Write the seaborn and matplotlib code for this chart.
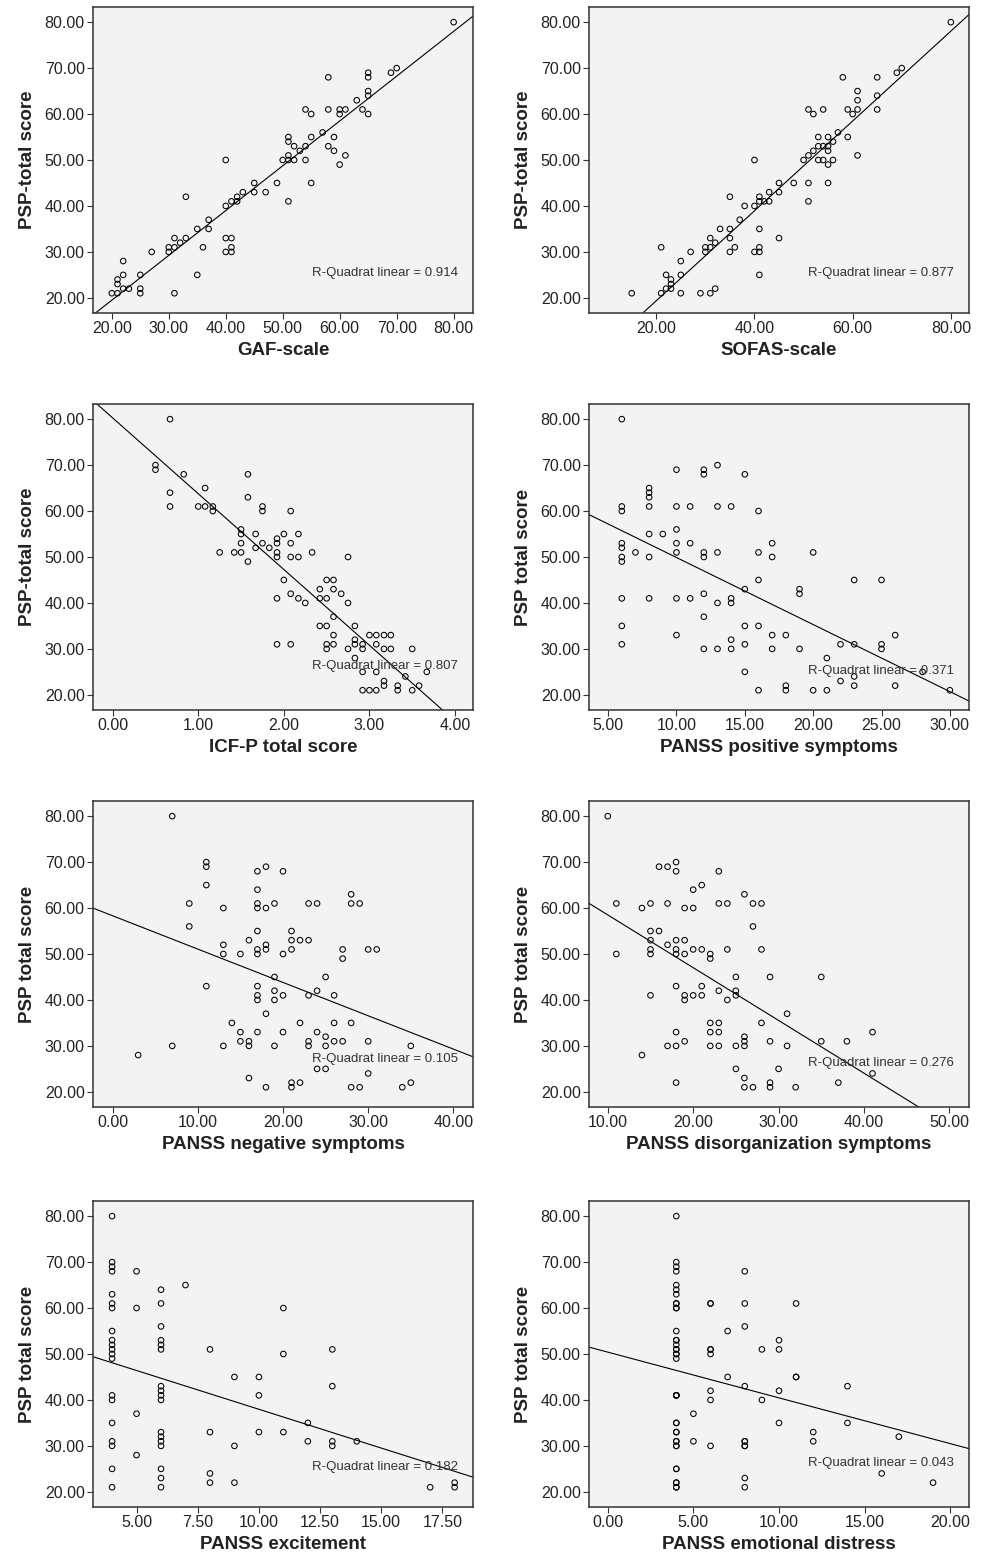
import matplotlib
matplotlib.use("Agg")
import matplotlib.pyplot as plt
from matplotlib.ticker import FormatStrFormatter
import seaborn as sns

# PSP total score against eight predictor scales (one list pair per panel)
gaf_x = [80, 70, 69, 65, 65, 65, 65, 65, 63, 64, 61, 60, 60, 58, 58, 58, 54, 55, 57, 55, 59, 59,
         54, 53, 52, 54, 51, 51, 51, 51, 52, 50, 61, 60, 55, 51, 49, 47, 45, 45, 43, 42, 42, 41,
         40, 40, 33, 37, 37, 35, 40, 41, 41, 40, 41, 36, 33, 32, 31, 31, 30, 30, 27, 35, 31, 25,
         25, 25, 22, 22, 21, 21, 22, 23, 21, 20]
gaf_y = [80, 70, 69, 69, 68, 65, 64, 60, 63, 61, 61, 61, 60, 68, 61, 53, 61, 60, 56, 55, 55, 52,
         53, 52, 53, 50, 55, 54, 51, 50, 50, 50, 51, 49, 45, 41, 45, 43, 45, 43, 43, 42, 41, 41,
         40, 50, 42, 37, 35, 35, 33, 33, 31, 30, 30, 31, 33, 32, 33, 31, 31, 30, 30, 25, 21, 25,
         22, 21, 28, 25, 24, 23, 22, 22, 21, 21]

sofas_x = [80, 70, 69, 65, 58, 61, 61, 65, 65, 61, 59, 60, 51, 52, 54, 57, 59, 53, 55, 52, 53, 54,
           55, 56, 55, 51, 50, 53, 54, 55, 56, 61, 51, 55, 51, 48, 45, 45, 43, 43, 42, 41, 41, 40,
           40, 38, 37, 35, 35, 41, 33, 35, 31, 32, 31, 30, 30, 27, 35, 36, 40, 41, 41, 45, 41, 21,
           22, 23, 23, 22, 23, 21, 25, 25, 25, 29, 31, 32, 15]
sofas_y = [80, 70, 69, 68, 68, 65, 63, 64, 61, 61, 61, 60, 61, 60, 61, 56, 55, 55, 55, 52, 53, 53,
           53, 54, 52, 51, 50, 50, 50, 49, 50, 51, 45, 45, 41, 45, 45, 43, 43, 41, 41, 42, 41, 40,
           50, 40, 37, 42, 35, 35, 35, 33, 33, 32, 31, 31, 30, 30, 30, 31, 30, 30, 31, 33, 25, 31,
           25, 24, 23, 22, 22, 21, 25, 28, 21, 21, 21, 22, 21]

icf_x = [0.67, 0.5, 0.5, 0.83, 0.67, 0.67, 1.0, 1.08, 1.08, 1.17, 1.17, 1.58, 1.58, 1.75, 1.75,
         2.08, 1.5, 1.5, 1.5, 1.5, 1.42, 1.25, 1.58, 1.67, 1.67, 1.75, 1.83, 1.92, 1.92, 1.92,
         1.92, 2.0, 2.08, 2.08, 2.17, 2.17, 2.33, 2.75, 2.0, 1.92, 2.08, 2.17, 2.25, 2.42, 2.42,
         2.5, 2.58, 2.58, 2.67, 2.5, 2.75, 2.58, 2.42, 2.5, 2.83, 2.58, 2.58, 2.5, 2.5, 1.92,
         2.08, 2.75, 2.83, 2.83, 2.92, 2.92, 2.83, 3.0, 3.08, 3.17, 3.25, 3.08, 3.17, 3.25, 3.5,
         2.92, 3.08, 3.42, 3.67, 3.17, 3.17, 3.33, 3.33, 3.58, 3.5, 2.92, 3.0, 3.08]
icf_y = [80, 70, 69, 68, 64, 61, 61, 61, 65, 61, 60, 68, 63, 61, 60, 60, 56, 55, 53, 51, 51, 51,
         49, 55, 52, 53, 52, 54, 53, 51, 50, 55, 53, 50, 50, 55, 51, 50, 45, 41, 42, 41, 40, 43,
         41, 45, 45, 43, 42, 41, 40, 37, 35, 35, 35, 33, 31, 31, 30, 31, 31, 30, 32, 31, 31, 30,
         28, 33, 33, 33, 33, 31, 30, 30, 30, 25, 25, 24, 25, 23, 22, 22, 21, 22, 21, 21, 21, 21]

pos_x = [6, 6, 6, 6, 6, 6, 6, 6, 6, 6, 7, 8, 8, 8, 8, 8, 8, 8, 9, 10, 10, 10, 10, 10, 10, 10,
         11, 11, 11, 12, 12, 12, 12, 12, 12, 12, 13, 13, 13, 13, 13, 14, 14, 14, 14, 14,
         15, 15, 15, 15, 15, 16, 16, 16, 16, 16, 17, 17, 17, 17, 18, 18, 18, 19, 19, 19,
         20, 20, 21, 21, 22, 22, 23, 23, 23, 23, 25, 25, 25, 26, 26, 28, 30]
pos_y = [80, 61, 60, 53, 52, 50, 49, 41, 35, 31, 51, 65, 64, 63, 61, 55, 50, 41, 55, 69, 61, 56,
         53, 51, 41, 33, 61, 53, 41, 69, 68, 51, 50, 42, 37, 30, 70, 61, 51, 40, 30, 61, 41, 40,
         32, 30, 68, 43, 35, 31, 25, 60, 51, 45, 35, 21, 53, 50, 33, 30, 33, 22, 21, 43, 42, 30,
         51, 21, 28, 21, 31, 23, 45, 31, 24, 22, 45, 31, 30, 33, 22, 25, 21]

neg_x = [3, 7, 7, 9, 9, 11, 11, 11, 11, 13, 13, 13, 13, 14, 15, 15, 15, 16, 16, 16, 16,
         17, 17, 17, 17, 17, 17, 17, 17, 17, 17, 17, 18, 18, 18, 18, 18, 18, 19, 19, 19, 19, 19,
         20, 20, 20, 20, 21, 21, 21, 21, 21, 22, 22, 22, 23, 23, 23, 23, 23, 24, 24, 24, 24,
         25, 25, 25, 25, 26, 26, 26, 27, 27, 27, 28, 28, 28, 28, 29, 29, 30, 30, 30, 31, 34, 35, 35]
neg_y = [28, 80, 30, 61, 56, 70, 69, 65, 43, 60, 52, 50, 30, 35, 50, 33, 31, 53, 31, 30, 23,
         68, 64, 61, 60, 55, 51, 50, 43, 41, 40, 33, 69, 60, 52, 51, 37, 21, 61, 45, 42, 40, 30,
         68, 50, 41, 33, 55, 53, 51, 22, 21, 53, 35, 22, 61, 53, 41, 31, 30, 61, 42, 33, 25,
         45, 32, 30, 25, 41, 35, 31, 51, 49, 31, 63, 61, 35, 21, 61, 21, 51, 31, 24, 51, 21, 30, 22]

dis_x = [10, 11, 11, 14, 14, 15, 15, 15, 15, 15, 15, 16, 16, 17, 17, 17, 17,
         18, 18, 18, 18, 18, 18, 18, 18, 18, 19, 19, 19, 19, 19, 19, 20, 20, 20, 20,
         21, 21, 21, 21, 22, 22, 22, 22, 22, 23, 23, 23, 23, 23, 23, 24, 24, 24,
         25, 25, 25, 25, 25, 26, 26, 26, 26, 26, 26, 27, 27, 27, 28, 28, 28,
         29, 29, 29, 29, 30, 31, 31, 32, 35, 35, 37, 38, 41, 41]
dis_y = [80, 61, 50, 60, 28, 61, 55, 53, 51, 50, 41, 69, 55, 69, 61, 52, 30,
         70, 68, 53, 51, 50, 43, 33, 30, 22, 60, 53, 50, 41, 40, 31, 64, 60, 51, 41,
         65, 51, 43, 41, 50, 49, 35, 33, 30, 68, 61, 42, 35, 33, 30, 61, 51, 40,
         45, 42, 41, 30, 25, 63, 32, 31, 30, 23, 21, 61, 56, 21, 61, 51, 35,
         45, 31, 22, 21, 25, 37, 30, 21, 45, 31, 22, 31, 33, 24]

exc_x = [4, 4, 4, 4, 4, 4, 4, 4, 4, 4, 4, 4, 4, 4, 4, 4, 4, 4, 4, 4, 5, 5, 5, 5,
         6, 6, 6, 6, 6, 6, 6, 6, 6, 6, 6, 6, 6, 6, 6, 6, 6, 7, 8, 8, 8, 8, 9, 9, 9,
         10, 10, 10, 11, 11, 11, 12, 12, 13, 13, 13, 13, 14, 17, 18, 18]
exc_y = [80, 70, 69, 68, 63, 61, 60, 55, 53, 52, 51, 50, 49, 41, 40, 35, 31, 30, 25, 21,
         68, 60, 37, 28, 64, 61, 56, 53, 52, 51, 43, 42, 41, 40, 33, 32, 31, 30, 25, 23, 21,
         65, 51, 33, 24, 22, 45, 30, 22, 45, 41, 33, 60, 50, 33, 35, 31, 51, 43, 31, 30,
         31, 21, 22, 21]

# darker (overlapping) circles in this panel are entered twice or more
emo_x = [4, 4, 4, 4, 4, 4, 4, 4, 4, 4, 4, 4, 4, 4, 4, 4, 4, 4, 4, 4, 4, 4, 4, 4, 4, 4, 4, 4, 4,
         4, 4, 4, 4, 4, 4, 4, 4, 4, 5, 5, 6, 6, 6, 6, 6, 6, 6, 6, 7, 7,
         8, 8, 8, 8, 8, 8, 8, 8, 8, 8, 9, 9, 10, 10, 10, 10, 11, 11, 11,
         12, 12, 14, 14, 16, 17, 19]
emo_y = [80, 70, 69, 68, 65, 64, 63, 61, 61, 60, 60, 55, 53, 53, 52, 51, 51, 50, 50, 49,
         41, 41, 41, 41, 35, 35, 33, 33, 31, 31, 30, 30, 25, 25, 22, 22, 21, 21, 37, 31,
         61, 61, 51, 51, 50, 42, 40, 30, 55, 45,
         68, 61, 56, 43, 31, 31, 30, 30, 23, 21, 51, 40, 53, 51, 42, 35, 61, 45, 45,
         33, 31, 43, 35, 24, 32, 22]

x_labels = ["GAF-scale", "SOFAS-scale", "ICF-P total score", "PANSS positive symptoms",
            "PANSS negative symptoms", "PANSS disorganization symptoms",
            "PANSS excitement", "PANSS emotional distress"]
y_labels = ["PSP-total score"] * 3 + ["PSP total score"] * 5
r_squared = ["0.914", "0.877", "0.807", "0.371", "0.105", "0.276", "0.182", "0.043"]
x_ticks = [[20, 30, 40, 50, 60, 70, 80], [20, 40, 60, 80], [0, 1, 2, 3, 4],
           [5, 10, 15, 20, 25, 30], [0, 10, 20, 30, 40], [10, 20, 30, 40, 50],
           [5, 7.5, 10, 12.5, 15, 17.5], [0, 5, 10, 15, 20]]
x_limits = [(16.7, 83.4), (6.3, 83.7), (-0.23, 4.21), (3.6, 31.4),
            (-2.3, 42.3), (7.8, 52.3), (3.22, 18.75), (-1.1, 21.1)]
y_ticks = [20, 30, 40, 50, 60, 70, 80]
y_limits = (16.7, 83.3)
r2_pos = [0.13, 0.13, 0.144, 0.128, 0.157, 0.144, 0.13, 0.144]

panels = [(gaf_x, gaf_y), (sofas_x, sofas_y), (icf_x, icf_y), (pos_x, pos_y),
          (neg_x, neg_y), (dis_x, dis_y), (exc_x, exc_y), (emo_x, emo_y)]

sns.set_style("ticks")
plt.rcParams["font.family"] = ["Liberation Sans", "DejaVu Sans"]

fig = plt.figure(figsize=(9.84, 15.6), dpi=100)
col_left = [93 / 984, 589 / 984]
row_bottom = [1 - 313 / 1560, 1 - 710 / 1560, 1 - 1107 / 1560, 1 - 1507 / 1560]
width, height = 380 / 984, 306 / 1560

for i, (xs, ys) in enumerate(panels):
    ax = fig.add_axes([col_left[i % 2], row_bottom[i // 2], width, height])
    ax.set_facecolor("#f3f3f3")
    sns.scatterplot(x=xs, y=ys, ax=ax, marker="o", s=16, facecolor="none",
                    edgecolor="black", linewidth=0.75)
    ax.set_xlim(x_limits[i])
    ax.set_ylim(y_limits)
    sns.regplot(x=xs, y=ys, ax=ax, scatter=False, ci=None, truncate=False,
                line_kws=dict(color="black", lw=0.8))
    ax.set_xlim(x_limits[i])
    ax.set_ylim(y_limits)

    ax.set_xticks(x_ticks[i])
    ax.set_yticks(y_ticks)
    ax.xaxis.set_major_formatter(FormatStrFormatter("%.2f"))
    ax.yaxis.set_major_formatter(FormatStrFormatter("%.2f"))
    ax.tick_params(direction="out", length=4, width=0.8, color="#333333",
                   labelsize=11.5, labelcolor="#222222", pad=2)
    for side in ["left", "bottom", "top", "right"]:
        ax.spines[side].set_visible(True)
        ax.spines[side].set_color("#333333")
        ax.spines[side].set_linewidth(1.1)

    ax.set_xlabel(x_labels[i], fontsize=13.5, fontweight="bold", color="#222222", labelpad=4)
    ax.set_ylabel(y_labels[i], fontsize=13.5, fontweight="bold", color="#222222", labelpad=6)
    ax.text(0.96, r2_pos[i], f"R-Quadrat linear = {r_squared[i]}", transform=ax.transAxes,
            ha="right", va="center", fontsize=9.5, color="#333333")

fig.savefig("out.png", dpi=100)
